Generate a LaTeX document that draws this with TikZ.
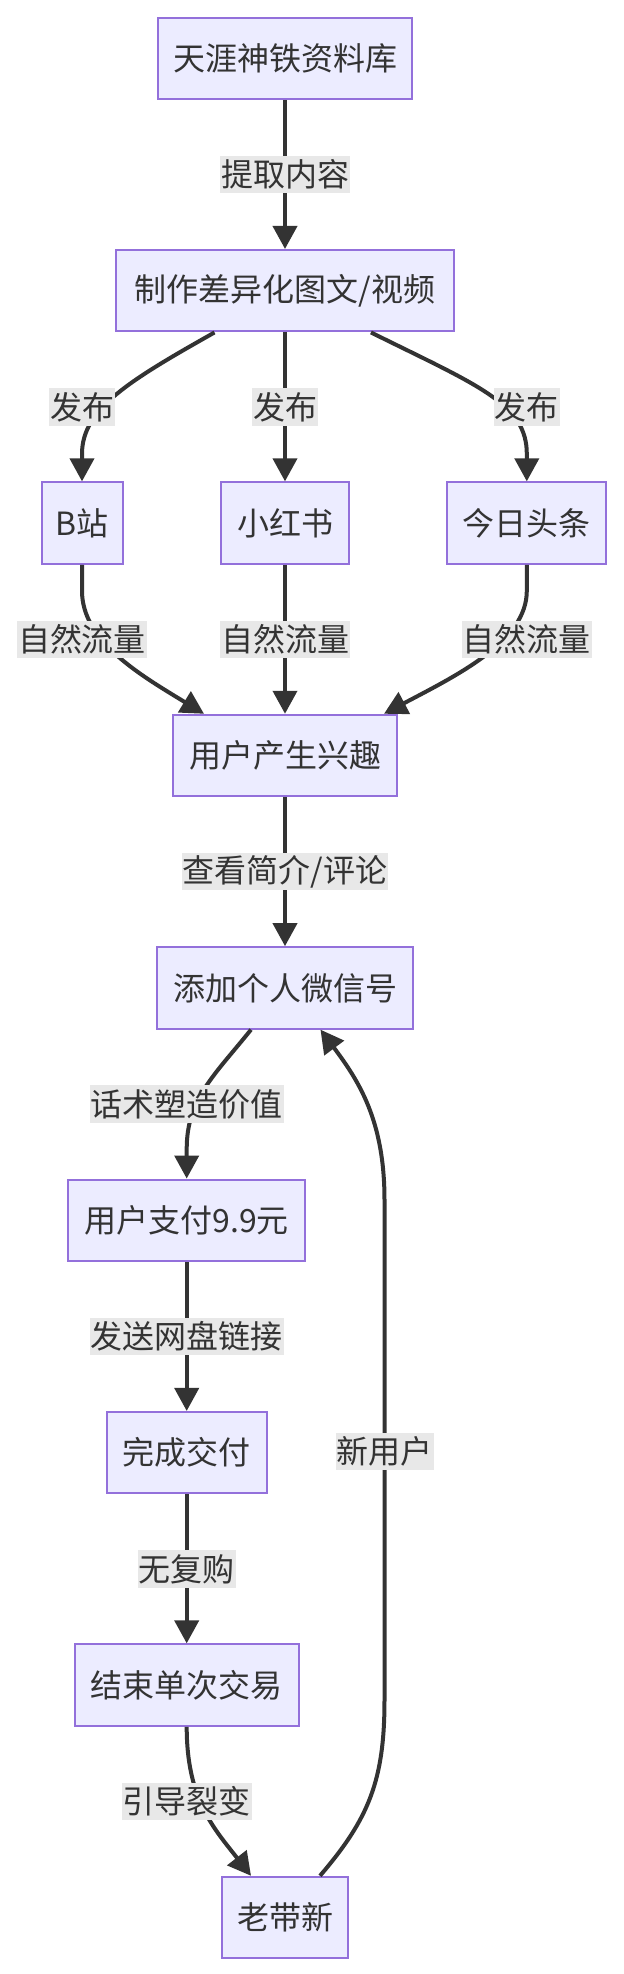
\documentclass[tikz,border=0pt]{standalone}
\usepackage{fontspec}
\setmainfont{Noto Sans CJK SC}
\usetikzlibrary{arrows.meta}
\definecolor{nodefill}{HTML}{ECECFF}
\definecolor{nodedraw}{HTML}{9370DB}
\definecolor{ink}{HTML}{333333}
\definecolor{lblbg}{HTML}{E8E8E8}
\begin{document}
\begin{tikzpicture}[x=1pt,y=-1pt,
  box/.style={draw=nodedraw, fill=nodefill, line width=2pt, text=ink,
    font=\fontsize{32}{38}\selectfont, minimum height=81.5pt,
    inner xsep=12pt, inner ysep=0pt},
  lbl/.style={fill=lblbg, text=ink, font=\fontsize{32}{38}\selectfont,
    inner xsep=1pt, inner ysep=0pt, minimum height=37.5pt},
  conn/.style={draw=ink, line width=4pt, -{Triangle[length=23pt,width=24pt]}},
]
\fill[white] (0,0) rectangle (624,1974);
\useasboundingbox (0,0) rectangle (624,1974);

% nodes
\node[box, minimum width=254.6pt] (n1) at (285,58.3) {天涯神铁资料库};
\node[box, minimum width=337.4pt] (n2) at (285,290.7) {制作差异化图文/视频};
\node[box, minimum width=81pt]    (b)  at (82,523.1) {B站};
\node[box, minimum width=127.2pt] (xhs) at (285,523.1) {小红书};
\node[box, minimum width=159.2pt] (tt) at (526.8,523.1) {今日头条};
\node[box, minimum width=224pt]   (i)  at (285,755.5) {用户产生兴趣};
\node[box, minimum width=255.6pt] (w)  at (285,987.9) {添加个人微信号};
\node[box, minimum width=236.8pt] (p)  at (186.7,1220.3) {用户支付9.9元};
\node[box, minimum width=159.6pt] (d)  at (186.7,1452.7) {完成交付};
\node[box, minimum width=224pt]   (e)  at (186.7,1685.1) {结束单次交易};
\node[box, minimum width=126.6pt] (l)  at (285,1917.5) {老带新};

% connectors
\draw[conn] (n1.south) -- (n2.north);
\draw[conn] ([xshift=-70.5pt]n2.south) .. controls +(-85,48) and +(0,-45) .. ([yshift=27.5pt]b.north) -- (b.north);
\draw[conn] (n2.south) -- (xhs.north);
\draw[conn] ([xshift=86pt]n2.south) .. controls +(107,53) and +(0,-50) .. ([yshift=27.5pt]tt.north) -- (tt.north);

\draw[conn] (b.south) -- ([yshift=-26pt]b.south) .. controls +(0,50) and +(-65,-39.5) .. ([xshift=-81pt]i.north);
\draw[conn] (xhs.south) -- (i.north);
\draw[conn] (tt.south) -- ([yshift=-26pt]tt.south) .. controls +(0,50) and +(75,-39.5) .. ([xshift=99pt]i.north);

\draw[conn] (i.south) -- (w.north);
\draw[conn] ([xshift=-34pt]w.south) .. controls +(-37,46) and +(0,-50) .. ([yshift=29.5pt]p.north) -- (p.north);
\draw[conn] (p.south) -- (d.north);
\draw[conn] (d.south) -- (e.north);
\draw[conn] (e.south) .. controls +(0,73) and +(-36.5,-46.75) .. ([xshift=-34pt]l.north);
\coordinate (r1) at (384.5,1700);
\coordinate (r2) at (384.5,1200);
\draw[conn] ([xshift=35pt]l.north) .. controls +(49,-57) and +(0,80) .. (r1) -- (r2) .. controls +(0,-80) and +(38,51) .. ([xshift=35.5pt]w.south);

% labels
\node[lbl] (l1) at (285,174.5) {提取内容};
\node[lbl] (l2) at (82,406.9) {发布};
\node[lbl] (l3) at (285,406.9) {发布};
\node[lbl] (l4) at (526.8,406.9) {发布};
\node[lbl] (l5) at (82,639.3) {自然流量};
\node[lbl] (l6) at (285,639.3) {自然流量};
\node[lbl] (l7) at (526.8,639.3) {自然流量};
\node[lbl] (l8) at (285,871.7) {查看简介/评论};
\node[lbl] (l9) at (186.7,1104.1) {话术塑造价值};
\node[lbl] (l10) at (186.7,1336.5) {发送网盘链接};
\node[lbl] (l11) at (186.7,1568.9) {无复购};
\node[lbl] (l12) at (186.7,1801.3) {引导裂变};
\node[lbl] (l13) at (384.5,1451.5) {新用户};
\end{tikzpicture}
\end{document}
